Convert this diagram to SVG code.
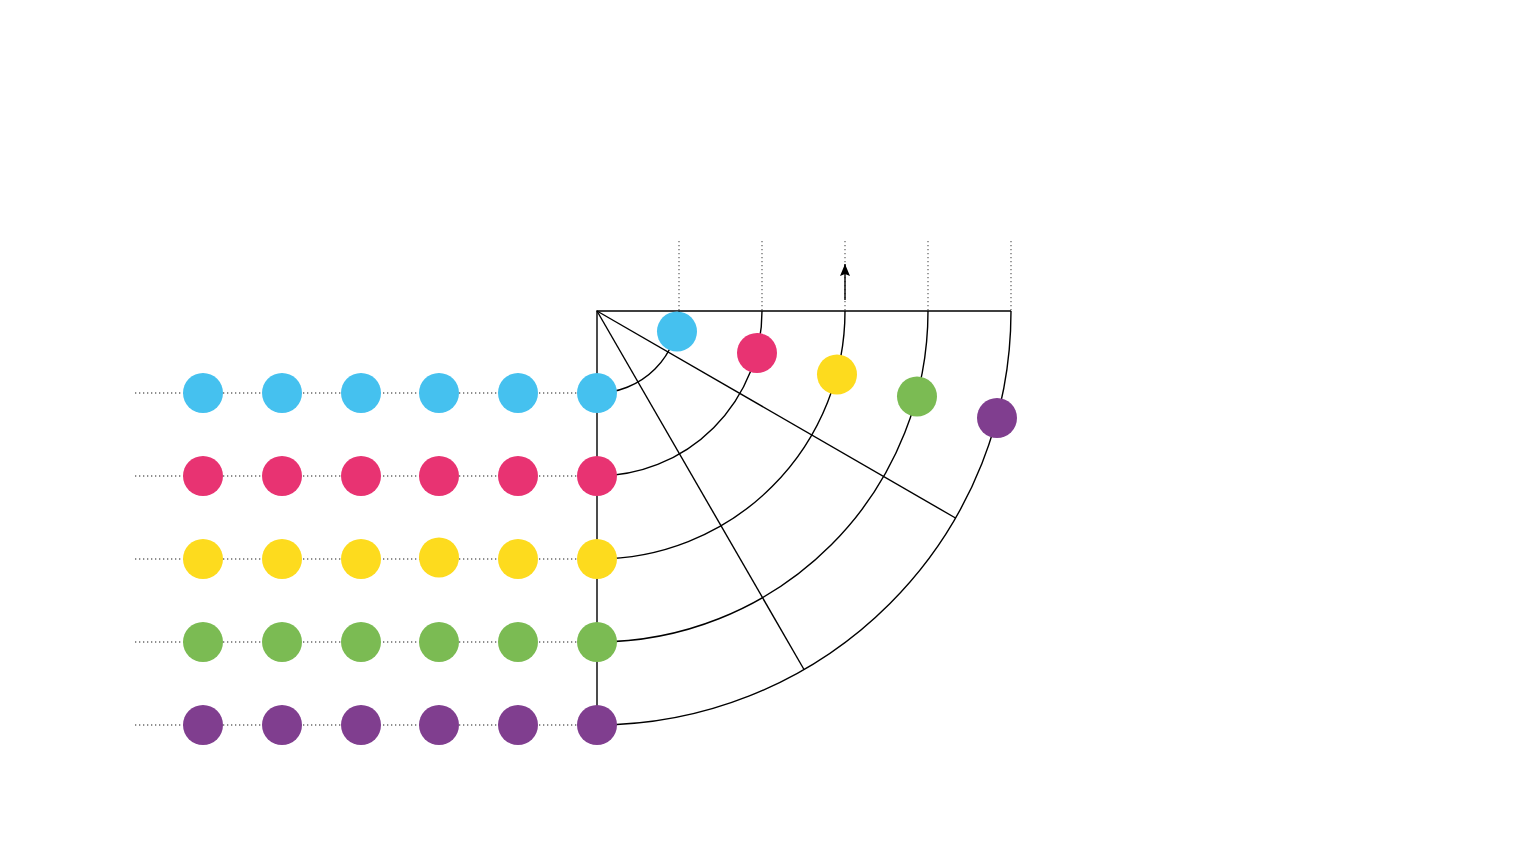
<svg xmlns="http://www.w3.org/2000/svg" width="1532" height="861" viewBox="0 0 1532 861">
<defs>
<style>
.dot{stroke:#6a6a6a;stroke-width:1.3;stroke-dasharray:1.3 2.7;fill:none}
.ln{stroke:#000;stroke-width:1.4;fill:none}
.b{fill:#45C1EF}.p{fill:#E83372}.y{fill:#FDDB1E}.g{fill:#7BBB53}.v{fill:#803E8F}
</style>
<marker id="ah" viewBox="0 0 12 10" refX="12" refY="5" markerWidth="12" markerHeight="10" markerUnits="userSpaceOnUse" orient="auto">
<path d="M12 5 L0 0 L2 5 L0 10 Z" fill="#000"/>
</marker>
</defs>
<rect width="1532" height="861" fill="#fff"/>
<g id="connectors">
<line class="dot" x1="135" y1="393" x2="597" y2="393"/>
<line class="dot" x1="135" y1="476" x2="597" y2="476"/>
<line class="dot" x1="135" y1="559" x2="597" y2="559"/>
<line class="dot" x1="135" y1="642" x2="597" y2="642"/>
<line class="dot" x1="135" y1="725" x2="597" y2="725"/>
<line class="dot" x1="679" y1="241" x2="679" y2="311"/>
<line class="dot" x1="762" y1="241" x2="762" y2="311"/>
<line class="dot" x1="845" y1="241" x2="845" y2="311"/>
<line class="dot" x1="928" y1="241" x2="928" y2="311"/>
<line class="dot" x1="1011" y1="241" x2="1011" y2="311"/>
<path class="ln" d="M597 725 V311 H1011"/>
<path class="ln" d="M597 393 A82 82 0 0 0 679 311"/>
<path class="ln" d="M597 476 A165 165 0 0 0 762 311"/>
<path class="ln" d="M597 559 A248 248 0 0 0 845 311"/>
<path class="ln" d="M597 642 A331 331 0 0 0 928 311"/>
<path class="ln" d="M597 725 A414 414 0 0 0 1011 311"/>
<line class="ln" x1="597" y1="311" x2="955.5" y2="518"/>
<line class="ln" x1="597" y1="311" x2="804" y2="669.5"/>
<line class="ln" x1="845" y1="300" x2="845" y2="264" marker-end="url(#ah)"/>
</g>
<g id="row-blue">
<circle class="b" cx="203" cy="393" r="20"/><circle class="b" cx="282" cy="393" r="20"/><circle class="b" cx="361" cy="393" r="20"/><circle class="b" cx="439" cy="393" r="20"/><circle class="b" cx="518" cy="393" r="20"/><circle class="b" cx="597" cy="393" r="20"/>
</g>
<g id="row-pink">
<circle class="p" cx="203" cy="476" r="20"/><circle class="p" cx="282" cy="476" r="20"/><circle class="p" cx="361" cy="476" r="20"/><circle class="p" cx="439" cy="476" r="20"/><circle class="p" cx="518" cy="476" r="20"/><circle class="p" cx="597" cy="476" r="20"/>
</g>
<g id="row-yellow">
<circle class="y" cx="203" cy="559" r="20"/><circle class="y" cx="282" cy="559" r="20"/><circle class="y" cx="361" cy="559" r="20"/><circle class="y" cx="439" cy="557.5" r="20"/><circle class="y" cx="518" cy="559" r="20"/><circle class="y" cx="597" cy="559" r="20"/>
</g>
<g id="row-green">
<circle class="g" cx="203" cy="642" r="20"/><circle class="g" cx="282" cy="642" r="20"/><circle class="g" cx="361" cy="642" r="20"/><circle class="g" cx="439" cy="642" r="20"/><circle class="g" cx="518" cy="642" r="20"/><circle class="g" cx="597" cy="642" r="20"/>
</g>
<g id="row-purple">
<circle class="v" cx="203" cy="725" r="20"/><circle class="v" cx="282" cy="725" r="20"/><circle class="v" cx="361" cy="725" r="20"/><circle class="v" cx="439" cy="725" r="20"/><circle class="v" cx="518" cy="725" r="20"/><circle class="v" cx="597" cy="725" r="20"/>
</g>
<g id="arc-dots">
<circle class="b" cx="677" cy="331.5" r="20"/>
<circle class="p" cx="757" cy="353" r="20"/>
<circle class="y" cx="837" cy="374.5" r="20"/>
<circle class="g" cx="917" cy="396.5" r="20"/>
<circle class="v" cx="997" cy="418" r="20"/>
</g>
</svg>
